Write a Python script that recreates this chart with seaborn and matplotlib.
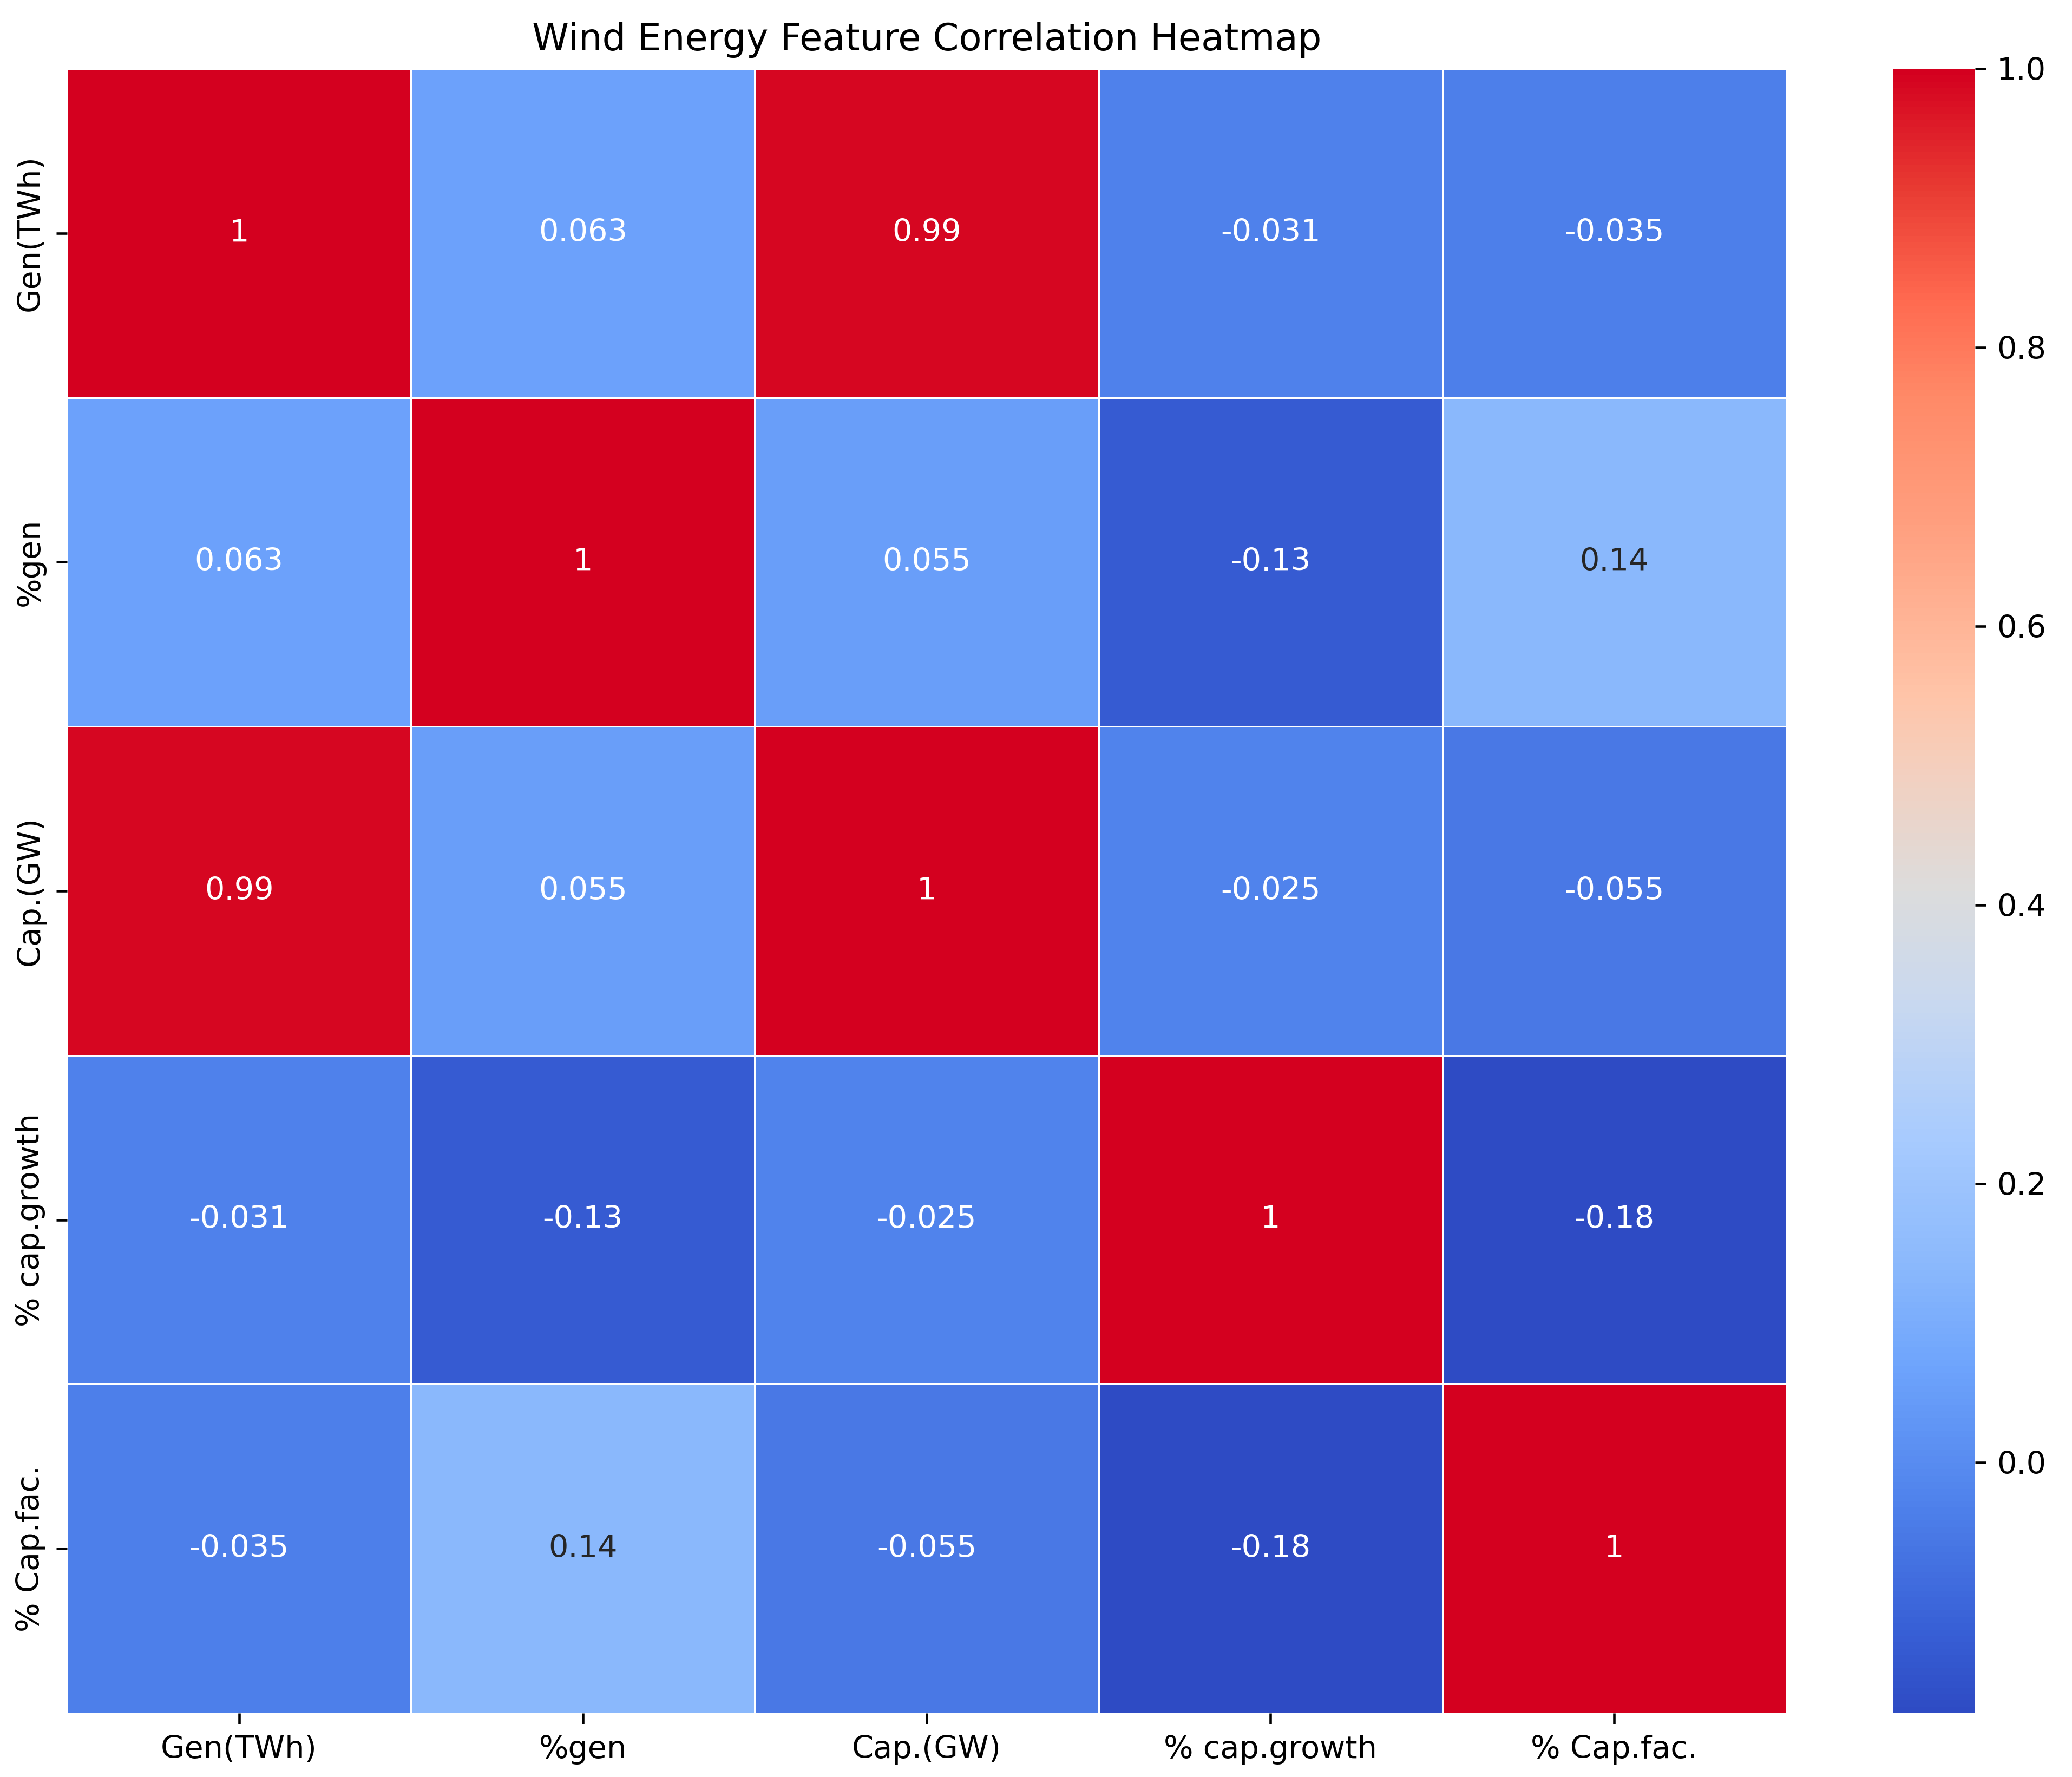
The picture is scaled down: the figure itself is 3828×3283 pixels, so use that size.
import numpy as np
import pandas as pd
import matplotlib
matplotlib.use('Agg')
import matplotlib.pyplot as plt
from matplotlib.colors import LinearSegmentedColormap
import seaborn as sns

# Feature names and correlation values
features = ['Gen(TWh)', '%gen', 'Cap.(GW)', '% cap.growth', '% Cap.fac.']
row_gen = [1.0, 0.063, 0.99, -0.031, -0.035]
row_pct_gen = [0.063, 1.0, 0.055, -0.13, 0.14]
row_cap = [0.99, 0.055, 1.0, -0.025, -0.055]
row_cap_growth = [-0.031, -0.13, -0.025, 1.0, -0.18]
row_cap_fac = [-0.035, 0.14, -0.055, -0.18, 1.0]

corr = pd.DataFrame([row_gen, row_pct_gen, row_cap, row_cap_growth, row_cap_fac],
                    index=features, columns=features)

# a punchier coolwarm, as in the reference image
cmap = LinearSegmentedColormap.from_list('coolwarm_vivid', [
    (0.00, '#2e4bc4'),
    (0.05, '#3860d6'),
    (0.13, '#5083ec'),
    (0.21, '#6ea4fc'),
    (0.27, '#8ab8fc'),
    (0.35, '#a8cbfe'),
    (0.43, '#c8d8f0'),
    (0.50, '#dcdcdc'),
    (0.57, '#f2d0c0'),
    (0.62, '#ffc4a8'),
    (0.72, '#ffa080'),
    (0.80, '#ff8a68'),
    (0.86, '#ff6a50'),
    (0.93, '#e83a32'),
    (1.00, '#d4001f'),
])

W, H, dpi = 3828, 3283, 413
fig = plt.figure(figsize=(W / dpi, H / dpi), dpi=dpi)
ax = fig.add_axes([124 / W, 1 - 3165 / H, (3300 - 124) / W, (3165 - 127) / H])
cax = fig.add_axes([3497 / W, 1 - 3165 / H, (3649 - 3497) / W, (3165 - 127) / H])

sns.heatmap(corr, annot=True, cmap=cmap, linewidths=0.5, ax=ax, cbar_ax=cax)
ax.set_title('Wind Energy Feature Correlation Heatmap', fontsize=12)

fig.savefig('out.png', dpi=dpi)
print('Done')
